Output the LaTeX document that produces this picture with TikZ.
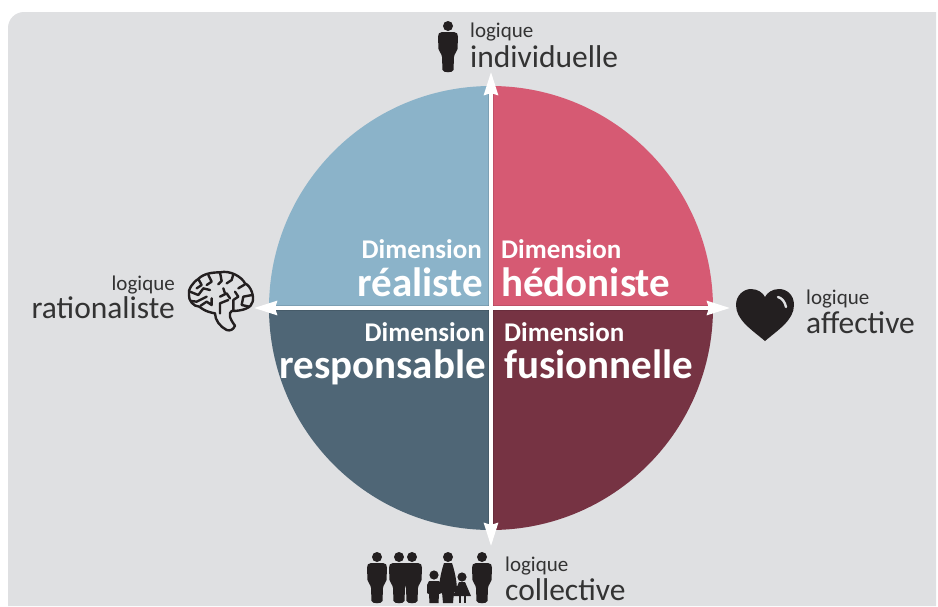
\documentclass[tikz,border=0pt]{standalone}
\usepackage{fontspec}
\setmainfont{Carlito}
\usetikzlibrary{arrows.meta}
\definecolor{panel}{HTML}{DFE0E2}
\definecolor{qa}{HTML}{8BB3C9}
\definecolor{qb}{HTML}{D65A73}
\definecolor{qc}{HTML}{4F6676}
\definecolor{qd}{HTML}{763343}
\definecolor{ink}{HTML}{231F20}
\definecolor{txt}{HTML}{333333}
\tikzset{
 x=1pt,y=-1pt,
 dimsmall/.style={font=\fontsize{27}{26}\selectfont\bfseries,text=white,inner sep=0pt},
 dimbig/.style={font=\fontsize{41}{41}\selectfont\bfseries,text=white,inner sep=0pt},
 logsmall/.style={font=\fontsize{21}{21}\selectfont,text=txt,inner sep=0pt},
 logbig/.style={font=\fontsize{31.5}{31}\selectfont,text=txt,inner sep=0pt},
 axisline/.style={draw=white,line width=3.5pt,-{Stealth[inset=2pt,length=23pt,width=14pt]}},
 axisshade/.style={draw=black,opacity=.10,line width=6pt},
 brainline/.style={draw=ink,line width=2.4pt,line cap=round,line join=round},
}
\newcommand{\person}[2]{% x, y top
 \begin{scope}[shift={(#1,#2)}]
 \fill[ink] (0,5) circle (5);
 \fill[ink] (-6,11) .. controls (-9,11) and (-10,13) .. (-10,16) -- (-9.5,28) .. controls (-9,31) and (-6.5,32) .. (-6,36) -- (-5.5,49) .. controls (-5,52) and (5,52) .. (5.5,49) -- (6,36) .. controls (6.5,32) and (9,31) .. (9.5,28) -- (10,16) .. controls (10,13) and (9,11) .. (6,11) -- cycle;
 \end{scope}}
\begin{document}
\begin{tikzpicture}
\useasboundingbox (0,0) rectangle (938,606);
\fill[white] (0,0) rectangle (938,606);
\path[fill=panel] (8,606) -- (8,28) arc[start angle=180,end angle=90,x radius=16,y radius=-16] -- (936,12) -- (936,606) -- cycle;
\coordinate (c) at (491,308);
\coordinate (top) at (491,72);
\coordinate (bot) at (491,546);
\coordinate (lft) at (254,308);
\coordinate (rgt) at (730,308);
\fill[qa] (c) -- (269,308) arc[start angle=180,end angle=270,radius=222] -- cycle;
\fill[qb] (c) -- (491,86) arc[start angle=270,end angle=360,radius=222] -- cycle;
\fill[qd] (c) -- (713,308) arc[start angle=0,end angle=90,radius=222] -- cycle;
\fill[qc] (c) -- (491,530) arc[start angle=90,end angle=180,radius=222] -- cycle;
\begin{scope}
\clip (c) circle (222);
\draw[axisshade] (top) -- (bot);
\draw[axisshade] (lft) -- (rgt);
\end{scope}
\draw[axisline] (c) -- (top);
\draw[axisline] (c) -- (bot);
\draw[axisline] (c) -- (lft);
\draw[axisline] (c) -- (rgt);
\node[dimsmall,anchor=base east] (d1) at (482,258) {Dimension};
\node[dimbig,anchor=base east] (d2) at (483,296) {réaliste};
\node[dimsmall,anchor=base west] (d3) at (501,258) {Dimension};
\node[dimbig,anchor=base west] (d4) at (501,296) {hédoniste};
\node[dimsmall,anchor=base east] (d5) at (485,341) {Dimension};
\node[dimbig,anchor=base east] (d6) at (486,378) {responsable};
\node[dimsmall,anchor=base west] (d7) at (504,341) {Dimension};
\node[dimbig,anchor=base west] (d8) at (504,378) {fusionnelle};
\node[logsmall,anchor=base west] (l1) at (470,37) {logique};
\node[logbig,anchor=base west] (l2) at (470,67) {individuelle};
\node[logsmall,anchor=base east] (l3) at (175,290) {logique};
\node[logbig,anchor=base east] (l4) at (175,318) {rationaliste};
\node[logsmall,anchor=base west] (l5) at (806,304) {logique};
\node[logbig,anchor=base west] (l6) at (806,333) {affective};
\node[logsmall,anchor=base west] (l7) at (505,571) {logique};
\node[logbig,anchor=base west] (l8) at (505,600) {collective};
% individual
\person{448}{21}
% family
\person{377}{552}
\person{399}{552}
\person{412}{552}
\person{482}{552}
\fill[ink] (448,557) circle (5);
\fill[ink] (444,563) -- (452,563) .. controls (456,575) and (457,585) .. (457,592) -- (454,592) -- (453,603) -- (443,603) -- (442,592) -- (439,592) .. controls (439,585) and (440,575) .. (444,563) -- cycle;
% boy
\fill[ink] (434,575) circle (4.6);
\fill[ink] (429,581) -- (439,581) -- (442,585) -- (442,593) -- (439,594) -- (438.5,603) -- (429.5,603) -- (429,594) -- (427,593) -- (427,585) -- cycle;
% girl
\fill[ink] (462,577) circle (4.6);
\fill[ink] (459,582) -- (465,582) -- (471,596) -- (453,596) -- cycle;
\fill[ink] (458.5,595) rectangle (460.5,603);
\fill[ink] (463.5,595) rectangle (465.5,603);
% heart
\fill[ink] (765,341) .. controls (752,330) and (736,320) .. (736,305) .. controls (736,295) and (744,289) .. (751,289) .. controls (758,289) and (763,293) .. (765,297) .. controls (767,293) and (772,289) .. (779,289) .. controls (787,289) and (794,295) .. (794,305) .. controls (794,320) and (778,330) .. (765,341) -- cycle;
\draw[panel,line width=2.4pt,line cap=round] (778,297) .. controls (782,298) and (785,302) .. (786,307);
% brain
\begin{scope}[shift={(170,255)},x=0.3333pt,y=-0.3333pt]
\draw[brainline] (135,175) .. controls (105,170) and (95,160) .. (88,155) .. controls (70,155) and (55,135) .. (57,120) .. controls (52,105) and (70,80) .. (85,72) .. controls (100,55) and (130,52) .. (150,52) .. controls (180,45) and (215,65) .. (225,85) .. controls (245,95) and (252,125) .. (248,140) .. controls (245,158) and (220,168) .. (185,168) .. controls (175,175) and (178,190) .. (195,212) .. controls (190,225) and (180,228) .. (170,225) .. controls (150,215) and (135,195) .. (135,175) -- cycle;
\draw[brainline] (85,72) -- (95,90) -- (80,100);
\draw[brainline] (60,110) -- (85,120) -- (100,100) -- (120,105);
\draw[brainline] (115,60) -- (125,80) -- (110,90);
\draw[brainline] (150,52) -- (155,78) -- (145,88);
\draw[brainline] (190,58) -- (185,75) -- (170,85);
\draw[brainline] (62,138) -- (80,140) -- (110,125);
\draw[brainline] (92,152) -- (110,140) -- (125,150) -- (125,130);
\draw[brainline] (150,125) -- (170,115) -- (180,130);
\draw[brainline] (165,115) -- (160,100);
\draw[brainline] (150,175) -- (150,145) -- (175,135);
\draw[brainline] (190,165) -- (190,135) -- (205,125) -- (195,110);
\draw[brainline] (225,88) -- (205,100);
\draw[brainline] (246,120) -- (220,125) -- (215,150) -- (238,155);
\end{scope}
\end{tikzpicture}
\end{document}
